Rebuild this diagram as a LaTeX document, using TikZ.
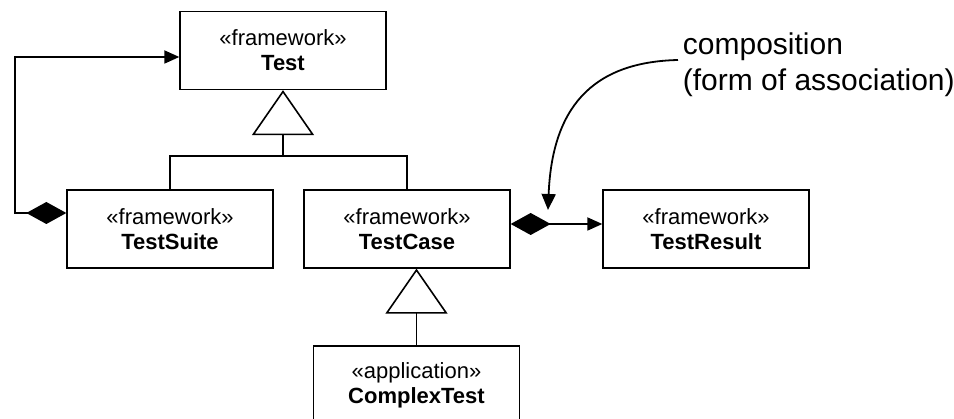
\documentclass[tikz,border=0pt]{standalone}
\usepackage{fontspec}
\setmainfont{Liberation Sans}
\usetikzlibrary{arrows.meta,calc}
\begin{document}
\begin{tikzpicture}[x=1pt,y=-1pt,line width=1.8pt,
  cls/.style={draw,line width=1.3pt,minimum width=206pt,minimum height=78pt,align=center,inner sep=0pt,font=\fontsize{22}{25}\selectfont},
  gen/.style={-{Triangle[open,length=45pt,width=62pt,line width=1.6pt]}},
  comp/.style={{Diamond[length=40pt,width=22pt]}-{Triangle[length=15pt,width=13pt]}},
  note/.style={align=left,inner sep=0pt,font=\fontsize{30}{36}\selectfont},
  pointer/.style={-{Triangle[length=16pt,width=14pt]}}
]
\useasboundingbox (0,0) rectangle (954,419);
\node[cls] (test) at (283,50.5) {«framework»\\\textbf{Test}};
\node[cls] (ts) at (170,229) {«framework»\\\textbf{TestSuite}};
\node[cls] (tc) at (407,229) {«framework»\\\textbf{TestCase}};
\node[cls] (tr) at (706,229) {«framework»\\\textbf{TestResult}};
\node[cls] (ct) at (416.5,385) {«application»\\\textbf{ComplexTest}};
\node[note,anchor=north west] (note) at (682,32) {composition\\(form of association)};

% generalization Test <- TestSuite, TestCase
\coordinate (j) at (test.south |- 0,156);
\draw (ts.north) |- (j) -| (tc.north);
\draw[gen] (j) -- (test.south);
% generalization TestCase <- ComplexTest
\draw[gen] (ct.north) -- (ct.north |- tc.south);
% composition TestSuite -> Test
\draw[comp] ($(ts.west)+(0,-16)$) -- (15,213) |- ($(test.west)+(0,6.5)$);
% composition TestCase -> TestResult
\draw[comp] ($(tc.east)+(0,-5)$) -- ($(tr.west)+(0,-5)$);
% annotation pointer
\coordinate (ns) at (678,60);
\draw[pointer] (ns) .. controls (590,62) and (552,110) .. (548,210);
\end{tikzpicture}
\end{document}
